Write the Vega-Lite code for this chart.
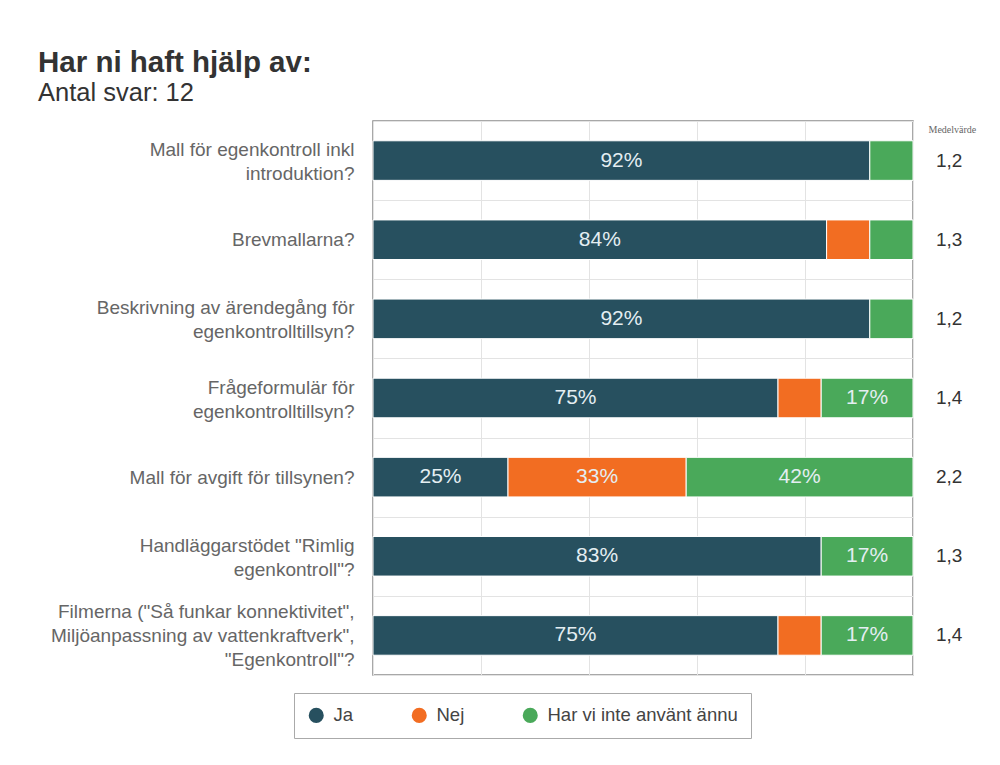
{
  "$schema": "https://vega.github.io/schema/vega-lite/v6.json",
  "autosize": {"type": "none"},
  "width": 540,
  "height": 554,
  "padding": {"left": 373, "top": 121, "right": 87, "bottom": 90},
  "background": "#ffffff",
  "config": {
    "font": "Liberation Sans",
    "view": {"stroke": "#8c8c8c", "strokeWidth": 1.5}
  },
  "title": {
    "text": "Har ni haft hjälp av:",
    "subtitle": "Antal svar: 12",
    "anchor": "start",
    "frame": "group",
    "dx": -335,
    "offset": 5,
    "fontSize": 29.5,
    "fontWeight": "bold",
    "color": "#333333",
    "subtitleFontSize": 25.5,
    "subtitleColor": "#333333",
    "subtitlePadding": 2
  },
  "data": {
    "values": [
      {"q": "Mall för egenkontroll inkl|introduktion?", "answer": "Ja", "ord": 1, "pct": 92, "medel": "1,2"},
      {"q": "Mall för egenkontroll inkl|introduktion?", "answer": "Har vi inte använt ännu", "ord": 3, "pct": 8, "medel": "1,2"},
      {"q": "Brevmallarna?", "answer": "Ja", "ord": 1, "pct": 84, "medel": "1,3"},
      {"q": "Brevmallarna?", "answer": "Nej", "ord": 2, "pct": 8, "medel": "1,3"},
      {"q": "Brevmallarna?", "answer": "Har vi inte använt ännu", "ord": 3, "pct": 8, "medel": "1,3"},
      {"q": "Beskrivning av ärendegång för|egenkontrolltillsyn?", "answer": "Ja", "ord": 1, "pct": 92, "medel": "1,2"},
      {"q": "Beskrivning av ärendegång för|egenkontrolltillsyn?", "answer": "Har vi inte använt ännu", "ord": 3, "pct": 8, "medel": "1,2"},
      {"q": "Frågeformulär för|egenkontrolltillsyn?", "answer": "Ja", "ord": 1, "pct": 75, "medel": "1,4"},
      {"q": "Frågeformulär för|egenkontrolltillsyn?", "answer": "Nej", "ord": 2, "pct": 8, "medel": "1,4"},
      {"q": "Frågeformulär för|egenkontrolltillsyn?", "answer": "Har vi inte använt ännu", "ord": 3, "pct": 17, "medel": "1,4"},
      {"q": "Mall för avgift för tillsynen?", "answer": "Ja", "ord": 1, "pct": 25, "medel": "2,2"},
      {"q": "Mall för avgift för tillsynen?", "answer": "Nej", "ord": 2, "pct": 33, "medel": "2,2"},
      {"q": "Mall för avgift för tillsynen?", "answer": "Har vi inte använt ännu", "ord": 3, "pct": 42, "medel": "2,2"},
      {"q": "Handläggarstödet \"Rimlig|egenkontroll\"?", "answer": "Ja", "ord": 1, "pct": 83, "medel": "1,3"},
      {"q": "Handläggarstödet \"Rimlig|egenkontroll\"?", "answer": "Har vi inte använt ännu", "ord": 3, "pct": 17, "medel": "1,3"},
      {"q": "Filmerna (\"Så funkar konnektivitet\",|Miljöanpassning av vattenkraftverk\",|\"Egenkontroll\"?", "answer": "Ja", "ord": 1, "pct": 75, "medel": "1,4"},
      {"q": "Filmerna (\"Så funkar konnektivitet\",|Miljöanpassning av vattenkraftverk\",|\"Egenkontroll\"?", "answer": "Nej", "ord": 2, "pct": 8, "medel": "1,4"},
      {"q": "Filmerna (\"Så funkar konnektivitet\",|Miljöanpassning av vattenkraftverk\",|\"Egenkontroll\"?", "answer": "Har vi inte använt ännu", "ord": 3, "pct": 17, "medel": "1,4"}
    ]
  },
  "resolve": {"axis": {"y": "independent"}},
  "layer": [
    {
      "mark": {"type": "bar", "height": {"band": 0.5}, "stroke": "#ffffff", "strokeWidth": 1},
      "encoding": {
        "y": {
          "field": "q", "type": "nominal", "sort": null,
          "scale": {"paddingInner": 0, "paddingOuter": 0},
          "axis": {
            "title": null,
            "labelExpr": "split(datum.label, '|')",
            "labelFontSize": 19,
            "labelColor": "#666666",
            "labelLineHeight": 24,
            "labelPadding": 19,
            "labelLimit": 400,
            "labelOffset": {
              "condition": [
                {"test": "length(split(datum.value, '|')) == 3", "value": -24},
                {"test": "length(split(datum.value, '|')) == 2", "value": -11}
              ],
              "value": 0
            },
            "ticks": false,
            "domain": false,
            "grid": true,
            "tickBand": "extent",
            "gridColor": "#e3e3e3",
            "gridWidth": 1
          }
        },
        "x": {
          "field": "pct", "type": "quantitative", "aggregate": "sum", "stack": "zero",
          "scale": {"domain": [0, 100], "nice": false},
          "axis": {
            "title": null,
            "labels": false,
            "ticks": false,
            "domain": false,
            "values": [0, 20, 40, 60, 80, 100],
            "grid": true,
            "gridColor": "#e3e3e3",
            "gridWidth": 1
          }
        },
        "color": {
          "field": "answer", "type": "nominal",
          "scale": {
            "domain": ["Ja", "Nej", "Har vi inte använt ännu"],
            "range": ["#27505f", "#f26d22", "#4aa95a"]
          },
          "legend": {
            "title": null,
            "orient": "none",
            "legendX": -79,
            "legendY": 572,
            "direction": "horizontal",
            "symbolType": "circle",
            "symbolSize": 227,
            "symbolStrokeWidth": 0,
            "labelFontSize": 18.5,
            "labelColor": "#444444",
            "labelOffset": 8,
            "labelLimit": 400,
            "columnPadding": 56,
            "strokeColor": "#aaaaaa",
            "fillColor": "#ffffff",
            "padding": 13
          }
        },
        "order": {"field": "ord", "type": "quantitative"}
      }
    },
    {
      "transform": [
        {"stack": "pct", "groupby": ["q"], "sort": [{"field": "ord", "order": "ascending"}], "as": ["x0", "x1"]},
        {"filter": "datum.pct >= 15"},
        {"calculate": "(datum.x0 + datum.x1) / 2", "as": "mid"},
        {"calculate": "datum.pct + '%'", "as": "lbl"}
      ],
      "mark": {"type": "text", "fontSize": 21, "color": "#e4eef2", "align": "center", "baseline": "middle"},
      "encoding": {
        "y": {"field": "q", "type": "nominal", "sort": null, "axis": null},
        "x": {"field": "mid", "type": "quantitative"},
        "text": {"field": "lbl", "type": "nominal"}
      }
    },
    {
      "transform": [{"filter": "datum.answer == 'Ja'"}],
      "mark": {"type": "text", "fontSize": 19, "color": "#333333", "align": "left", "baseline": "middle", "dx": 23},
      "encoding": {
        "y": {
          "field": "q", "type": "nominal", "sort": null,
          "axis": {
            "orient": "right",
            "labels": false,
            "ticks": false,
            "domain": false,
            "grid": false,
            "title": "Medelvärde",
            "titleAngle": 0,
            "titleX": 15,
            "titleY": 8,
            "titleAlign": "left",
            "titleBaseline": "middle",
            "titleFont": "Liberation Serif",
            "titleFontSize": 10,
            "titleFontWeight": "normal",
            "titleColor": "#666666"
          }
        },
        "x": {"datum": 100, "type": "quantitative"},
        "text": {"field": "medel", "type": "nominal"}
      }
    }
  ]
}
